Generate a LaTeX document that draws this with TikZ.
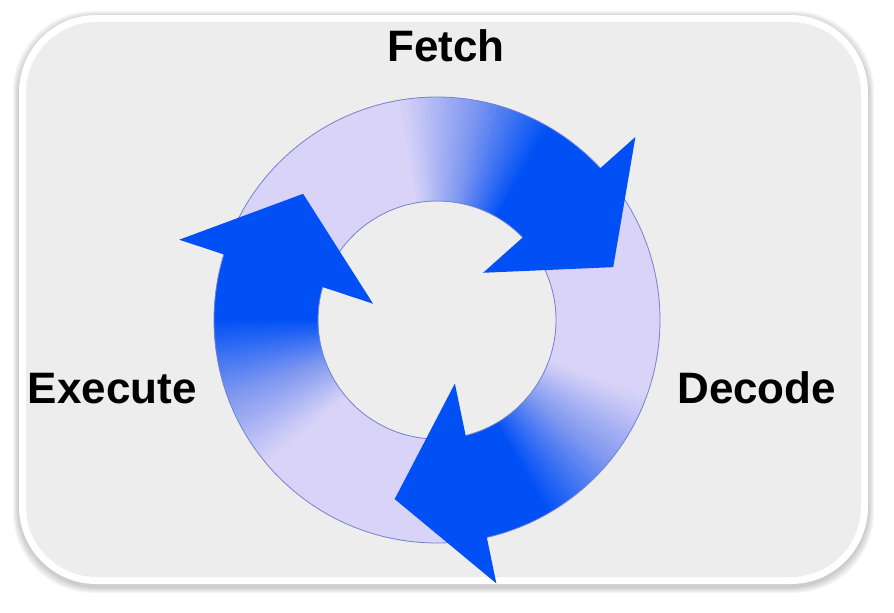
\documentclass[tikz,border=0pt]{standalone}
\usepackage{fontspec}
\setmainfont{Liberation Sans}
\usepackage{xcolor}
\usepackage{tikz}

\definecolor{cycblue}{RGB}{0,80,245}
\definecolor{cycperi}{RGB}{125,150,240}
\definecolor{cyclav}{RGB}{216,211,247}
\definecolor{cycedge}{RGB}{115,130,205}
\definecolor{panelgray}{RGB}{237,237,237}

\tikzset{
  stagetext/.style={font=\fontsize{33}{40}\selectfont\bfseries, inner sep=0pt},
  cychead/.style={fill=cycblue},
  cycline/.style={draw=cycedge, line width=0.6},
}

% one slice of the ring, from angle #1 to angle #2, filled with #3
\newcommand{\cycsector}[3]{%
  \fill[#3] (#1:119) arc[start angle=#1, end angle=#2, radius=119]
    -- (#2:223) arc[start angle=#2, end angle=#1, radius=223] -- cycle;}

% shaded shaft that ends at angle #1
\newcommand{\cycshaft}[1]{%
  \cycsector{#1-4}{#1+15.5}{cycblue}
  \foreach \k in {0,...,19}{
    \pgfmathsetmacro{\aa}{#1+15+\k}
    \pgfmathsetmacro{\bb}{\aa+1.5}
    \pgfmathtruncatemacro{\pp}{100-5*\k}
    \cycsector{\aa}{\bb}{cycblue!\pp!cycperi}}
  \foreach \k in {0,...,19}{
    \pgfmathsetmacro{\aa}{#1+35+\k}
    \pgfmathsetmacro{\bb}{\aa+1.5}
    \pgfmathtruncatemacro{\pp}{100-5*\k}
    \cycsector{\aa}{\bb}{cycperi!\pp!cyclav}}}

% arrow head whose base lies at angle #1
\newcommand{\cycheadat}[1]{%
  \fill[cychead] (#1+1.5:66) -- (#1-1.5:270) -- (#1-27.5:184) -- cycle;}

\begin{document}
\begin{tikzpicture}[x=0.75pt,y=0.75pt,yscale=-1,xscale=1]
    \useasboundingbox (0,0) rectangle (894,612);

    % Panel shadow
    \foreach \s in {1,...,6}
      \fill[black, opacity=0.035, rounded corners=60pt] ({19-\s},{17-\s}) rectangle ({868+\s},{587+\s});
    % Panel
    \fill[white, rounded corners=58pt] (19,15) rectangle (868,584);
    \fill[panelgray, rounded corners=53pt] (26,22) rectangle (861,577);

    \begin{scope}[shift={(437,320)}, yscale=-1]
      % Ring
      \fill[cyclav, even odd rule] (0,0) circle[radius=223] (0,0) circle[radius=119];
      % Shafts
      \cycshaft{44.2}
      \cycshaft{-75.8}
      \cycshaft{164.2}
      % Ring outline
      \draw[cycline] (0,0) circle[radius=223];
      \draw[cycline] (0,0) circle[radius=119];
      % Heads
      \cycheadat{44.2}
      \cycheadat{-75.8}
      \cycheadat{164.2}
    \end{scope}

    % Text Node
    \node[stagetext, anchor=base] (fetch) at (446,61) {Fetch};
    % Text Node
    \node[stagetext, anchor=base west] (decode) at (677,403) {Decode};
    % Text Node
    \node[stagetext, anchor=base east] (execute) at (197,403) {Execute};
\end{tikzpicture}
\end{document}
